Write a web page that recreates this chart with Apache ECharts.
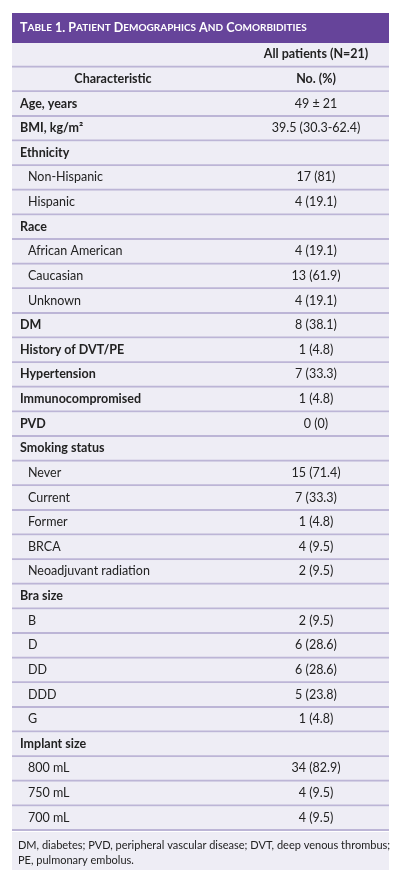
<!DOCTYPE html>
<html><head><meta charset="utf-8">
<script src="https://cdn.jsdelivr.net/npm/echarts@6/dist/echarts.min.js"></script>
<style>html,body{margin:0;padding:0;background:#fff}#c{width:400px;height:883px}</style>
</head><body><div id="c"></div>
<script>
const titleText = 'Table 1. Patient Demographics and Comorbidities';
const headerTop = ['', 'All patients (N=21)'];
const headerSub = ['Characteristic', 'No. (%)'];
const characteristics = ['Age, years','BMI, kg/m²','Ethnicity','Non-Hispanic','Hispanic','Race','African American','Caucasian','Unknown','DM','History of DVT/PE','Hypertension','Immunocompromised','PVD','Smoking status','Never','Current','Former','BRCA','Neoadjuvant radiation','Bra size','B','D','DD','DDD','G','Implant size','800 mL','750 mL','700 mL'];
const values = ['49 ± 21','39.5 (30.3-62.4)','','17 (81)','4 (19.1)','','4 (19.1)','13 (61.9)','4 (19.1)','8 (38.1)','1 (4.8)','7 (33.3)','1 (4.8)','0 (0)','','15 (71.4)','7 (33.3)','1 (4.8)','4 (9.5)','2 (9.5)','','2 (9.5)','6 (28.6)','6 (28.6)','5 (23.8)','1 (4.8)','','34 (82.9)','4 (9.5)','4 (9.5)'];
const isSub = [0,0,0,1,1,0,1,1,1,0,0,0,0,0,0,1,1,1,1,1,0,1,1,1,1,1,0,1,1,1];
const footnote = 'DM, diabetes; PVD, peripheral vascular disease; DVT, deep venous thrombus;\nPE, pulmonary embolus.';

const rows = [{a:headerTop[0],b:headerTop[1],t:'h1'},{a:headerSub[0],b:headerSub[1],t:'h2'}]
  .concat(characteristics.map((c,i)=>({a:c,b:values[i],t:isSub[i]?'sub':'main'})));
const cats = rows.map((r,i)=>String(i));
const data = rows.map((r,i)=>[0,i]);
const font = 'Lato';

function renderItem(params, api){
  const i = api.value(1);
  const r = rows[i];
  const c = api.coord([0,i]);
  const s = api.size([0,1]);
  const x0 = c[0], x1 = api.coord([377,i])[0];
  const h = s[1];
  const top = c[1]-h/2;
  const ch = [
    {type:'rect',shape:{x:x0,y:top,width:x1-x0,height:h},style:{fill:'#eeedf5'}},
    {type:'rect',shape:{x:x0,y:top+h-2,width:x1-x0,height:2},style:{fill:'#bcb5d6'}}
  ];
  const ty = c[1]-1;
  if (r.t==='h2') {
    ch.push({type:'text',style:{x:api.coord([101,i])[0],y:ty,text:r.a,fill:'#222',font:'bold 12.5px '+font,align:'center',verticalAlign:'middle'}});
  } else if (r.a) {
    const xx = r.t==='sub' ? 16 : 8;
    ch.push({type:'text',style:{x:api.coord([xx,i])[0],y:ty,text:r.a,fill:'#222',font:(r.t==='sub'?'':'bold ')+'12.5px '+font,align:'left',verticalAlign:'middle'}});
  }
  if (r.b) ch.push({type:'text',style:{x:api.coord([304,i])[0],y:ty,text:r.b,fill:'#222',font:(r.t.charAt(0)==='h'?'bold ':'')+'12.5px '+font,align:'center',verticalAlign:'middle'}});
  return {type:'group',children:ch};
}

// small caps title as rich text
const titleRich = titleText.split(' ').map(w=>{
  if (/^[0-9]/.test(w)) return '{b|'+w+'}';
  return '{b|'+w.charAt(0).toUpperCase()+'}{s|'+w.slice(1).toUpperCase()+'}';
}).join('{b| }');

const chart = echarts.init(document.getElementById('c'));
chart.setOption({
  animation:false,
  backgroundColor:'#fff',
  grid:{left:12,right:11,top:43,bottom:52},
  xAxis:{type:'value',min:0,max:377,show:false},
  yAxis:{type:'category',data:cats,inverse:true,show:false},
  graphic:[
    {type:'rect',shape:{x:12,y:13,width:377,height:30},style:{fill:'#66449a'}},
    {type:'text',x:20,y:28,style:{text:titleRich,verticalAlign:'middle',rich:{
      b:{fontFamily:font,fontWeight:'bold',fontSize:12.5,fill:'#fff',color:'#fff'},
      s:{fontFamily:font,fontWeight:'bold',fontSize:10,fill:'#fff',color:'#fff'}}}},
    {type:'rect',shape:{x:12,y:832,width:377,height:38},style:{fill:'#eeedf5'}},
    {type:'text',x:18,y:838,style:{text:footnote,fill:'#222',font:'11px '+font,lineHeight:15}}
  ],
  series:[{type:'custom',renderItem:renderItem,data:data,encode:{x:0,y:1}}]
});
</script>
</body></html>
